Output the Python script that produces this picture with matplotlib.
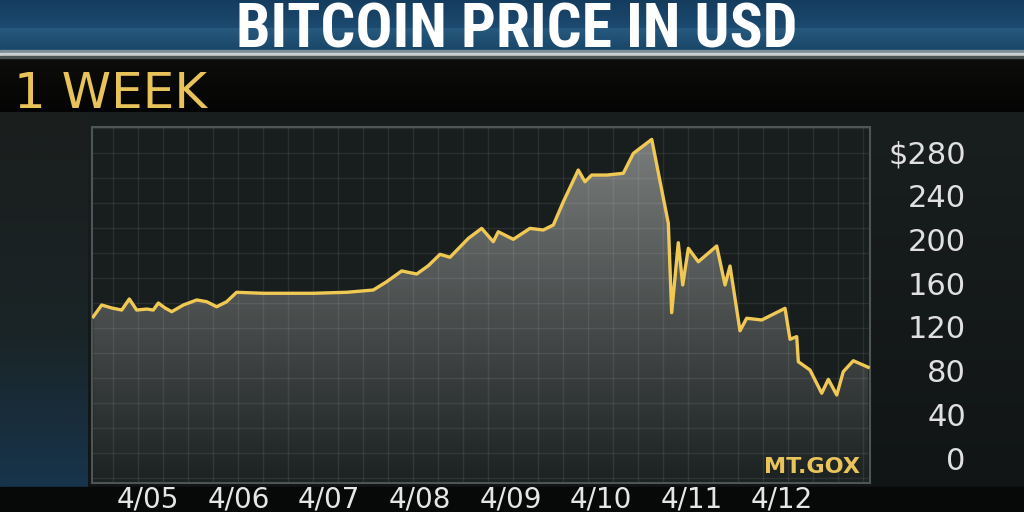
import numpy as np
import matplotlib.pyplot as plt
from matplotlib import font_manager
from matplotlib.font_manager import FontProperties
from matplotlib.colors import to_rgb
from matplotlib.ticker import MultipleLocator

# Mt.Gox price (x = days since 4/05)
days = [-0.604, -0.511, -0.401, -0.290, -0.206, -0.125, -0.014, 0.058, 0.114, 0.188,
        0.262, 0.390, 0.538, 0.648, 0.758, 0.868, 0.978, 1.273, 1.821, 2.193,
        2.487, 2.635, 2.800, 2.966, 3.094, 3.223, 3.333, 3.536, 3.683, 3.811,
        3.866, 4.032, 4.216, 4.363, 4.474, 4.584, 4.749, 4.823, 4.897, 5.063,
        5.246, 5.357, 5.560, 5.743, 5.780, 5.853, 5.902, 5.964, 6.074, 6.277,
        6.369, 6.424, 6.534, 6.608, 6.774, 7.031, 7.086, 7.160, 7.178, 7.307,
        7.436, 7.509, 7.602, 7.674, 7.785, 7.950]
price = [129.3, 140.0, 137.3, 135.4, 145.5, 135.4, 136.3, 135.4, 141.8, 137.3,
         133.9, 140.0, 144.6, 143.0, 138.4, 143.0, 151.6, 150.7, 150.7, 151.6,
         153.7, 161.3, 171.1, 168.3, 175.9, 186.3, 183.6, 200.9, 210.0, 197.8,
         206.9, 200.0, 210.0, 208.5, 213.1, 234.3, 263.3, 252.6, 258.7, 258.7,
         260.3, 278.5, 291.3, 214.6, 133.0, 196.9, 158.3, 191.8, 179.5, 193.9,
         158.3, 175.6, 116.5, 127.9, 126.3, 137.0, 108.7, 111.1, 88.2, 80.6,
         59.4, 72.1, 57.8, 79.1, 89.1, 83.1]

date_labels = ["4/05", "4/06", "4/07", "4/08", "4/09", "4/10", "4/11", "4/12"]
date_pos = [0, 1, 2, 3, 4, 5, 6, 7]
price_ticks = [0, 40, 80, 120, 160, 200, 240, 280]
price_labels = ["0", "40", "80", "120", "160", "200", "240", "$280"]

GOLD = "#f0c955"


def vgrad(ax, top, bottom, c_top, c_bot, x0=0, x1=1024, zorder=0):
    t = np.linspace(0, 1, 128)[:, None, None]
    a = np.array(to_rgb(c_top))
    b = np.array(to_rgb(c_bot))
    img = np.repeat(a + (b - a) * t, 2, axis=1)
    return ax.imshow(img, extent=(x0, x1, bottom, top), aspect="auto",
                     interpolation="bilinear", zorder=zorder)


# narrow font for the banner if there is one
title_font, title_stretch = "Liberation Sans", "normal"
for fam in ["Liberation Sans Narrow", "Roboto Condensed", "Open Sans Condensed"]:
    try:
        font_manager.findfont(fam, fallback_to_default=False)
        title_font = fam
        break
    except ValueError:
        pass
else:
    f = font_manager.findfont(FontProperties(family="DejaVu Sans", stretch="condensed",
                                             weight="bold"))
    if "Condensed" in f:
        title_font, title_stretch = "DejaVu Sans", "condensed"

fig = plt.figure(figsize=(10.24, 5.12), dpi=100)
fig.patch.set_facecolor("#0b0d0d")

# background drawn in pixel coordinates
bg = fig.add_axes([0, 0, 1, 1])
bg.set_xlim(0, 1024)
bg.set_ylim(512, 0)
bg.axis("off")

vgrad(bg, 0, 28, "#143c5e", "#1c4a70")
vgrad(bg, 28, 50, "#275a80", "#184668")
bg.axhspan(50, 53, color="#7d8e96")
bg.axhspan(53, 56, color="#c9cfcf")
bg.axhspan(56, 58, color="#4a5252")
vgrad(bg, 58, 112, "#0d0e0b", "#040404")
vgrad(bg, 112, 487, "#191e1e", "#111515")
vgrad(bg, 112, 330, "#1a1e1d", "#1a2426", x0=0, x1=88)
vgrad(bg, 330, 487, "#1a2426", "#17344c", x0=0, x1=88)
bg.axhspan(487, 512, color="#070808")

title = bg.text(517, 1, "BITCOIN PRICE IN USD", ha="center", va="top",
                fontsize=46, fontweight="bold", color="white", family=title_font,
                fontstretch=title_stretch)
bg.text(14, 108, "1 WEEK", ha="left", va="baseline", fontsize=36,
        color="#e8c35a", family="DejaVu Sans")

# price chart
ax = fig.add_axes([92 / 1024, (512 - 483) / 512, 778 / 1024, 356 / 512])
ax.set_facecolor("#181d1d")
ax.set_xlim(-0.618, 7.969)
ax.set_ylim(-22.6, 302.6)

y0, y1 = ax.get_ylim()
x0, x1 = ax.get_xlim()
area = ax.fill_between(days, price, y0, facecolor="none", edgecolor="none")
shade = vgrad(ax, y1, y0, "#7c7f7e", "#1c2121", x0=x0, x1=x1, zorder=1)
shade.set_clip_path(area.get_paths()[0], transform=ax.transData)
ax.set_xlim(x0, x1)
ax.set_ylim(y0, y1)

ax.plot(days, price, color=GOLD, lw=2.4, solid_joinstyle="round", zorder=3)

ax.xaxis.set_minor_locator(MultipleLocator(0.276, offset=0.166))
ax.yaxis.set_minor_locator(MultipleLocator(22.83, offset=4.84))
ax.set_axisbelow("line")
ax.grid(which="minor", color="white", alpha=0.08, lw=1)
ax.grid(which="major", visible=False)

ax.yaxis.tick_right()
ax.set_yticks(price_ticks, price_labels)
ax.set_xticks(date_pos, date_labels)
ax.tick_params(which="both", length=0)
ax.tick_params(axis="y", labelsize=22, labelcolor="#e0e0e0", pad=69)
ax.tick_params(axis="x", labelsize=20, labelcolor="#e6e6e6", pad=2)
for lab in ax.get_yticklabels():
    lab.set_ha("right")

for s in ax.spines.values():
    s.set_color("#4d5555")
    s.set_linewidth(1.5)

ax.text(0.987, 0.045, "MT.GOX", transform=ax.transAxes, ha="right", va="center",
        fontsize=16, fontweight="bold", color="#e8c45a")

# fit the title to the width it has on screen, keep it above the silver line
fig.canvas.draw()
w = title.get_window_extent().width
title.set_fontsize(46 * 560 / w)

fig.savefig("out.png", dpi=100, facecolor=fig.get_facecolor())
